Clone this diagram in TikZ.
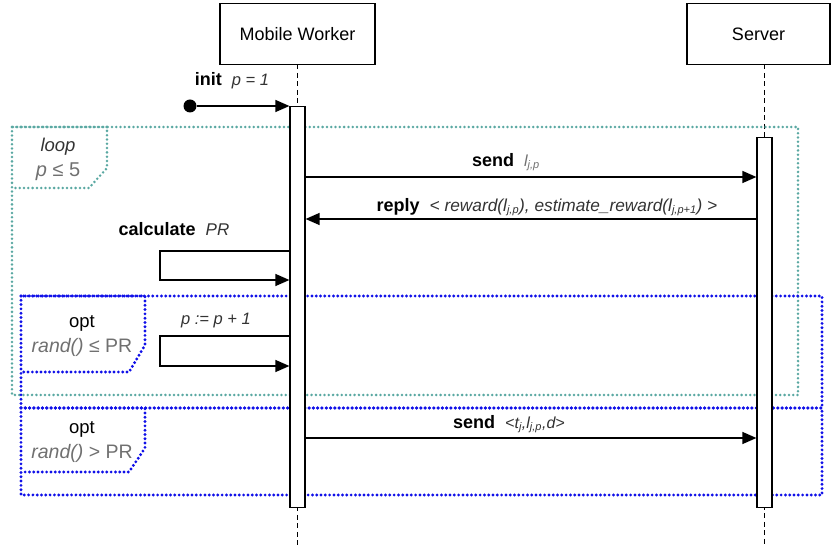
\documentclass[tikz,border=0pt]{standalone}
\usepackage{fontspec}
\setmainfont{Liberation Sans}
\usetikzlibrary{arrows.meta}
\definecolor{tealc}{HTML}{5AA8A2}
\definecolor{bluec}{HTML}{1010E8}
\definecolor{dgray}{HTML}{333333}
\definecolor{lgray}{HTML}{707070}
\tikzset{
  actor/.style={draw, line width=1.2pt, minimum width=155pt, minimum height=61pt, inner sep=0pt, font=\fontsize{18}{21}\selectfont},
  life/.style={line width=1.2pt, dash pattern=on 5pt off 3.5pt},
  bar/.style={draw, fill=white, line width=1.2pt, inner sep=0pt, minimum width=15pt},
  msg/.style={line width=1.3pt, -{Triangle[length=14pt,width=12pt]}},
  loopframe/.style={draw=tealc, line width=2.8pt, dash pattern=on 0pt off 4.3pt, line cap=round},
  optframe/.style={draw=bluec, line width=3.2pt, dash pattern=on 0pt off 4.3pt, line cap=round},
  lbl/.style={inner sep=1pt, font=\fontsize{18}{21}\selectfont},
  tag/.style={inner sep=0pt, align=center, font=\fontsize{18.5}{25}\selectfont},
}
\newcommand{\sbx}[1]{\textsubscript{\fontsize{11}{11}\selectfont #1}}
\begin{document}
\begin{tikzpicture}[x=1pt,y=-1pt]
\useasboundingbox (0,0) rectangle (831,545);
% actors
\node[actor] (mw) at (297.5,34) {Mobile Worker};
\node[actor, minimum width=143pt] (sv) at (758.5,34) {Server};
% lifelines
\coordinate (mwend) at (297.5,545);
\coordinate (svtop) at (764.5,64.5);
\coordinate (mwtop) at (297.5,64.5);
\draw[life] (mwtop) -- (mwend);
\draw[life] (svtop) -- (764.5,140);
\draw[life] (764.5,505) -- (764.5,545);
% frames
\draw[loopframe] (12,127) rectangle (798,395);
\draw[loopframe] (12,127) -- (107,127) -- (107,168) -- (89,188) -- (12,188);
\draw[optframe] (21,296) rectangle (822,408);
\draw[optframe] (21,296) -- (145,296) -- (145,345) -- (129,372) -- (21,372);
\draw[optframe] (21,408) rectangle (822,495);
\draw[optframe] (21,408) -- (145,408) -- (145,448) -- (129,472) -- (21,472);
% activation bars
\node[bar, anchor=north, minimum height=401pt] (mwb) at (297.5,106) {};
\node[bar, anchor=north, minimum height=370pt] (svb) at (764.5,137) {};
% init
\node[circle, fill, inner sep=0pt, minimum size=13pt] (start) at (190,106) {};
\draw[msg] (start) -- (mwb.north west);
\node[lbl] (initl) at (232,81) {\textbf{init}\ \ {\color{dgray}\fontsize{16.5}{20}\selectfont\itshape p = 1}};
% send
\draw[msg] (mwb.east |- 0,177) -- (svb.west |- 0,177);
\node[lbl] (sendl) at (506,162) {\textbf{send}\ \ {\color{lgray}\fontsize{16}{20}\selectfont\itshape l\sbx{j,p}}};
% reply
\draw[msg] (svb.west |- 0,219) -- (mwb.east |- 0,219);
\node[lbl] (replyl) at (547,207) {\textbf{reply}\ \ {\color{dgray}\fontsize{17.3}{20}\selectfont\itshape < reward(l\sbx{j,p}), estimate\_reward(l\sbx{j,p+1}) >}};
% calculate
\coordinate (c1) at (160,251);
\coordinate (c2) at (160,280);
\draw[msg] (mwb.west |- c1) -- (c1) -- (c2) -- (mwb.west |- c2);
\node[lbl] (calcl) at (174,229) {\textbf{calculate}\ \ {\color{dgray}\fontsize{17}{20}\selectfont\itshape PR}};
% p := p+1
\coordinate (d1) at (160,336);
\coordinate (d2) at (160,366);
\draw[msg] (mwb.west |- d1) -- (d1) -- (d2) -- (mwb.west |- d2);
\node[lbl] (incl) at (216,321) {\color{dgray}\fontsize{16.5}{20}\selectfont\itshape p := p + 1};
% final send
\draw[msg] (mwb.east |- 0,438) -- (svb.west |- 0,438);
\node[lbl] (send2l) at (509,424) {\textbf{send}\ \ {\color{dgray}\fontsize{16}{20}\selectfont\itshape <t\sbx{j},l\sbx{j,p},d>}};
% frame tags
\node[tag] (loopt) at (58,159) {{\color{dgray}\itshape loop}\\{\color{lgray}\fontsize{20}{24}\selectfont\itshape p\upshape\ ≤ 5}};
\node[tag] (opt1t) at (82,336) {opt\\{\color{lgray}\fontsize{19.5}{24}\selectfont\itshape rand()\upshape\ ≤ PR}};
\node[tag] (opt2t) at (82,442) {opt\\{\color{lgray}\fontsize{19.5}{24}\selectfont\itshape rand()\upshape\ > PR}};
\end{tikzpicture}
\end{document}
